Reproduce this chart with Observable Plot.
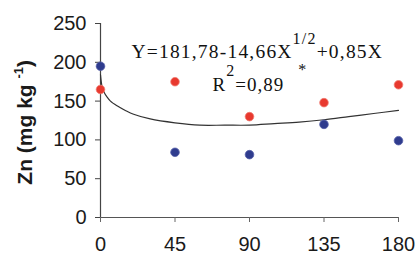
<!DOCTYPE html>
<html><head><meta charset="utf-8">
<script src="https://cdn.jsdelivr.net/npm/d3@7"></script>
<script src="https://cdn.jsdelivr.net/npm/@observablehq/plot@0.6"></script>
<style>body{margin:0;background:#fff} svg{display:block}</style>
</head><body><div id="chart"></div>
<script>
// Doses (x) and measured Zn values for the two series
const doses = [0, 45, 90, 135, 180];
const seriesRed = [165, 175, 130, 148, 171];
const seriesBlue = [195, 84, 81, 120, 99];
// Fitted curve
const fitX = [0, 1, 2, 4, 6, 10, 15, 20, 30, 45, 60, 75, 90, 105, 120, 135, 150, 165, 180];
const fitY = [184, 168, 162, 155, 150, 144, 138, 133, 127, 122, 119, 119, 119, 121, 123, 126, 130, 134, 138];
const yTicks = [0, 50, 100, 150, 200, 250];
const xTicks = [0, 45, 90, 135, 180];
const yLabel = ["Zn (mg kg ", "-1", ")"];
const eqLine1 = ["Y=181,78-14,66X", "1/2", "+0,85X"];
const eqLine2 = ["R", "2", "=0,89", "*"];
// annotation anchors in data units
const eqAnchor1 = [19, 205];
const eqAnchor2 = [68, 162];

const red = doses.map((d, i) => ({x: d, y: seriesRed[i]}));
const blue = doses.map((d, i) => ({x: d, y: seriesBlue[i]}));
const fit = fitX.map((d, i) => ({x: d, y: fitY[i]}));

const plot = Plot.plot({
  width: 419, height: 256,
  marginLeft: 100, marginRight: 21, marginTop: 23, marginBottom: 39,
  style: {fontFamily: "'Liberation Sans', Arial, sans-serif", fontSize: "20px", color: "#1a1a1a", background: "#fff", overflow: "visible"},
  x: {domain: [0, 180]},
  y: {domain: [0, 250]},
  marks: [
    Plot.ruleX([0], {y1: 0, y2: 250, stroke: "#444", strokeWidth: 1.2}),
    Plot.ruleY([0], {x1: 0, x2: 180, stroke: "#555", strokeWidth: 1.2}),
    Plot.axisY(yTicks, {tickSize: 5, tickPadding: 9, label: null, stroke: "#444", fontSize: 20}),
    Plot.axisX(xTicks, {tickSize: 5, tickPadding: 14, label: null, stroke: "#666", fontSize: 20}),
    Plot.line(fit, {x: "x", y: "y", stroke: "#333", strokeWidth: 1.2, curve: "catmull-rom"}),
    Plot.dot(red, {x: "x", y: "y", r: 4.3, fill: "#e8392f", stroke: "#f07a70", strokeWidth: 0.8}),
    Plot.dot(blue, {x: "x", y: "y", r: 4.3, fill: "#2f3c8e", stroke: "#5560a8", strokeWidth: 0.8})
  ]
});

const svg = d3.select(plot);
const sx = plot.scale("x"), sy = plot.scale("y");

// Y label
const yl = svg.append("text")
  .attr("transform", `translate(32,${sy.apply(122)}) rotate(-90)`)
  .attr("text-anchor", "middle")
  .attr("font-family", "'Liberation Sans', Arial, sans-serif")
  .attr("font-weight", "bold").attr("font-size", 21).attr("fill", "#1a1a1a");
yl.append("tspan").text(yLabel[0]);
yl.append("tspan").attr("font-size", 13).attr("dy", -9).text(yLabel[1]);
yl.append("tspan").attr("dy", 9).text(yLabel[2]);

// Equation
const serif = "'Liberation Serif', 'Times New Roman', serif";
const e1 = svg.append("text")
  .attr("x", sx.apply(eqAnchor1[0])).attr("y", sy.apply(eqAnchor1[1]))
  .attr("text-anchor", "start")
  .attr("font-family", serif).attr("font-size", 19.5).attr("letter-spacing", 1.2).attr("fill", "#111");
e1.append("tspan").text(eqLine1[0]);
e1.append("tspan").attr("font-size", 16).attr("dy", -14).text(eqLine1[1]);
e1.append("tspan").attr("dy", 14).text(eqLine1[2]);

const e2 = svg.append("text")
  .attr("x", sx.apply(eqAnchor2[0])).attr("y", sy.apply(eqAnchor2[1]))
  .attr("text-anchor", "start")
  .attr("font-family", serif).attr("font-size", 19).attr("letter-spacing", 1).attr("fill", "#111");
e2.append("tspan").text(eqLine2[0]);
e2.append("tspan").attr("font-size", 16).attr("dy", -15).text(eqLine2[1]);
e2.append("tspan").attr("dy", 15).text(eqLine2[2]);
e2.append("tspan").attr("font-size", 16).attr("dy", -16).attr("dx", 14).text(eqLine2[3]);

document.getElementById("chart").appendChild(plot);
</script>
</body></html>
